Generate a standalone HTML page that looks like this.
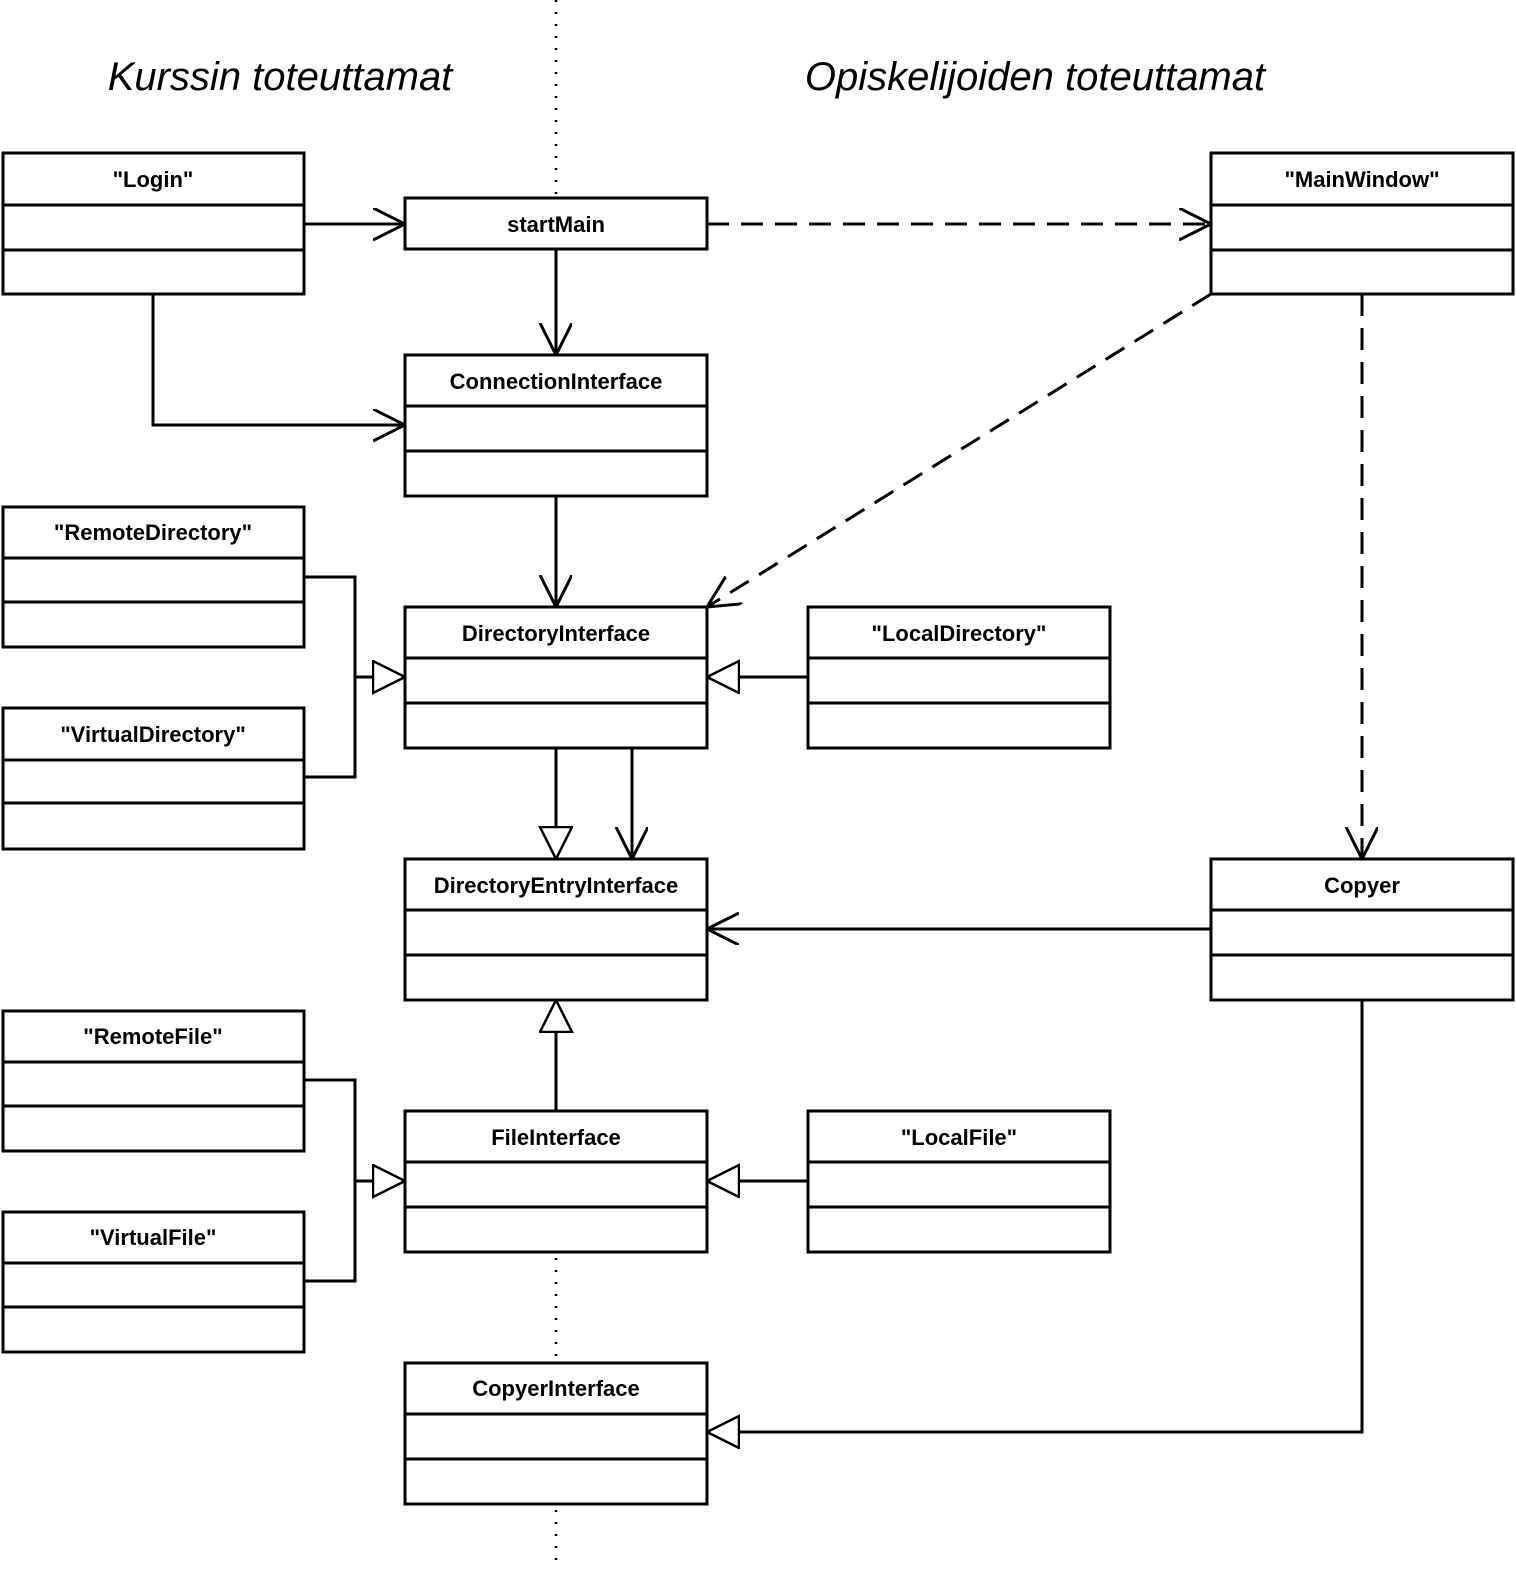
<!DOCTYPE html>
<html><head><meta charset="utf-8"><style>
body{margin:0;background:#fff}
svg text{font-family:"Liberation Sans",sans-serif}
</style></head><body>
<svg width="1516" height="1566" viewBox="0 0 1516 1566" xmlns="http://www.w3.org/2000/svg">
<defs>
<marker id="open" markerWidth="40" markerHeight="40" refX="32" refY="16" orient="auto" markerUnits="userSpaceOnUse">
<path d="M0,0 L32,16 L0,32" fill="none" stroke="#000" stroke-width="3"/>
</marker>
<marker id="tri" markerWidth="40" markerHeight="40" refX="33" refY="17" orient="auto" markerUnits="userSpaceOnUse">
<path d="M1,1 L33,17 L1,33 Z" fill="#fff" stroke="#000" stroke-width="2.5"/>
</marker>
</defs>
<g stroke="#000" stroke-width="2.5" stroke-dasharray="2,10" fill="none">
<line x1="556" y1="0" x2="556" y2="195"/>
<line x1="556" y1="1258" x2="556" y2="1560"/>
</g>
<text x="280" y="90" font-size="40" font-style="italic" text-anchor="middle">Kurssin toteuttamat</text>
<text x="1035" y="90" font-size="40" font-style="italic" text-anchor="middle">Opiskelijoiden toteuttamat</text>

<g stroke="#000" stroke-width="3" fill="none">
<line x1="304" y1="224" x2="405" y2="224" marker-end="url(#open)"/>
<line x1="556" y1="249" x2="556" y2="355" marker-end="url(#open)"/>
<polyline points="153,294 153,425 405,425" marker-end="url(#open)"/>
<line x1="556" y1="496" x2="556" y2="607" marker-end="url(#open)"/>
<polyline points="304,577 355,577 355,777 304,777"/>
<line x1="355" y1="677" x2="405" y2="677" marker-end="url(#tri)"/>
<line x1="808" y1="677" x2="707" y2="677" marker-end="url(#tri)"/>
<line x1="556" y1="748" x2="556" y2="859" marker-end="url(#tri)"/>
<line x1="632" y1="748" x2="632" y2="859" marker-end="url(#open)"/>
<line x1="1211" y1="929" x2="707" y2="929" marker-end="url(#open)"/>
<line x1="556" y1="1111" x2="556" y2="1000" marker-end="url(#tri)"/>
<polyline points="304,1080 355,1080 355,1281 304,1281"/>
<line x1="355" y1="1181" x2="405" y2="1181" marker-end="url(#tri)"/>
<line x1="808" y1="1181" x2="707" y2="1181" marker-end="url(#tri)"/>
<polyline points="1362,1000 1362,1432 707,1432" marker-end="url(#tri)"/>
</g>
<g stroke="#000" stroke-width="3" fill="none" stroke-dasharray="22,12">
<line x1="707" y1="224" x2="1211" y2="224" marker-end="url(#open)"/>
<line x1="1211" y1="294" x2="707" y2="607" marker-end="url(#open)"/>
<line x1="1362" y1="294" x2="1362" y2="859" marker-end="url(#open)"/>
</g>

<g stroke="#000" stroke-width="3" fill="#fff">
<rect x="3" y="153" width="301" height="141"/><line x1="3" y1="205" x2="304" y2="205"/><line x1="3" y1="250" x2="304" y2="250"/>
<rect x="405" y="198" width="302" height="51"/>
<rect x="1211" y="153" width="302" height="141"/><line x1="1211" y1="205" x2="1513" y2="205"/><line x1="1211" y1="250" x2="1513" y2="250"/>
<rect x="405" y="355" width="302" height="141"/><line x1="405" y1="406" x2="707" y2="406"/><line x1="405" y1="451" x2="707" y2="451"/>
<rect x="3" y="507" width="301" height="140"/><line x1="3" y1="558" x2="304" y2="558"/><line x1="3" y1="602" x2="304" y2="602"/>
<rect x="405" y="607" width="302" height="141"/><line x1="405" y1="658" x2="707" y2="658"/><line x1="405" y1="703" x2="707" y2="703"/>
<rect x="808" y="607" width="302" height="141"/><line x1="808" y1="658" x2="1110" y2="658"/><line x1="808" y1="703" x2="1110" y2="703"/>
<rect x="3" y="708" width="301" height="141"/><line x1="3" y1="760" x2="304" y2="760"/><line x1="3" y1="803" x2="304" y2="803"/>
<rect x="405" y="859" width="302" height="141"/><line x1="405" y1="910" x2="707" y2="910"/><line x1="405" y1="955" x2="707" y2="955"/>
<rect x="1211" y="859" width="302" height="141"/><line x1="1211" y1="910" x2="1513" y2="910"/><line x1="1211" y1="955" x2="1513" y2="955"/>
<rect x="3" y="1011" width="301" height="140"/><line x1="3" y1="1062" x2="304" y2="1062"/><line x1="3" y1="1106" x2="304" y2="1106"/>
<rect x="405" y="1111" width="302" height="141"/><line x1="405" y1="1162" x2="707" y2="1162"/><line x1="405" y1="1207" x2="707" y2="1207"/>
<rect x="808" y="1111" width="302" height="141"/><line x1="808" y1="1162" x2="1110" y2="1162"/><line x1="808" y1="1207" x2="1110" y2="1207"/>
<rect x="3" y="1212" width="301" height="140"/><line x1="3" y1="1263" x2="304" y2="1263"/><line x1="3" y1="1307" x2="304" y2="1307"/>
<rect x="405" y="1363" width="302" height="141"/><line x1="405" y1="1414" x2="707" y2="1414"/><line x1="405" y1="1459" x2="707" y2="1459"/>
</g>
<g font-size="22" font-weight="bold" text-anchor="middle">
<text x="153" y="187">"Login"</text>
<text x="556" y="232">startMain</text>
<text x="1362" y="187">"MainWindow"</text>
<text x="556" y="389">ConnectionInterface</text>
<text x="153" y="540">"RemoteDirectory"</text>
<text x="556" y="641">DirectoryInterface</text>
<text x="959" y="641">"LocalDirectory"</text>
<text x="153" y="742">"VirtualDirectory"</text>
<text x="556" y="893">DirectoryEntryInterface</text>
<text x="1362" y="893">Copyer</text>
<text x="153" y="1044">"RemoteFile"</text>
<text x="556" y="1145">FileInterface</text>
<text x="959" y="1145">"LocalFile"</text>
<text x="153" y="1245">"VirtualFile"</text>
<text x="556" y="1396">CopyerInterface</text>
</g>
</svg>
</body></html>
